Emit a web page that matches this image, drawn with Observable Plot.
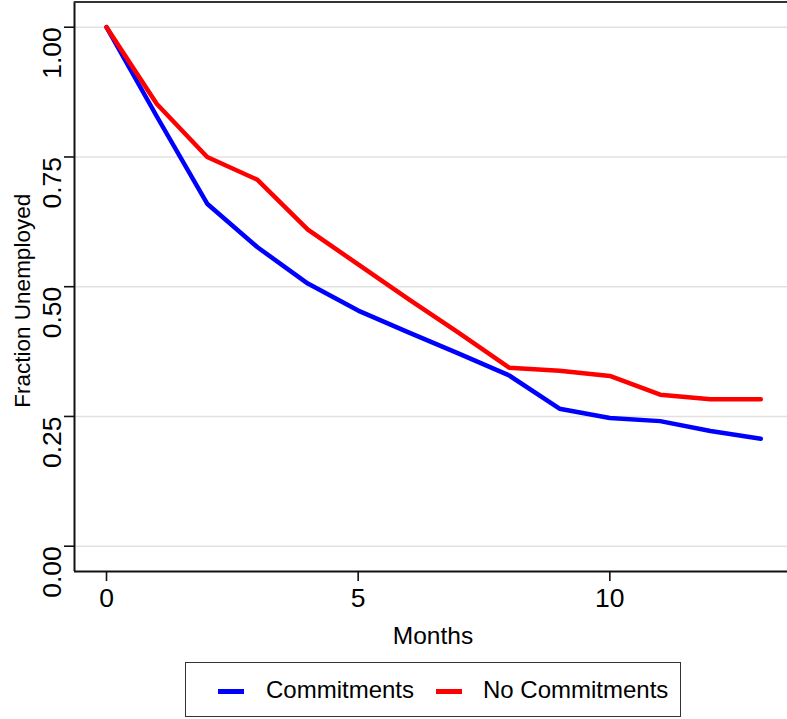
<!DOCTYPE html>
<html>
<head>
<meta charset="utf-8">
<script src="https://cdn.jsdelivr.net/npm/d3@7"></script>
<script src="https://cdn.jsdelivr.net/npm/@observablehq/plot@0.6"></script>
<style>
  html, body { margin: 0; padding: 0; background: #fff; }
  body { font-family: "Liberation Sans", Arial, sans-serif; }
  #wrap { position: relative; width: 787px; height: 719px; }
  #legend { position: absolute; left: 185px; top: 662px; width: 494px; height: 53px;
    border: 1.5px solid #333; box-sizing: content-box; }
  .sw { position: absolute; top: 26px; height: 4.5px; width: 26px; }
  .lt { position: absolute; top: 13px; font-size: 24px; line-height: 28px; color: #000; white-space: nowrap; }
</style>
</head>
<body>
<div id="wrap"></div>
<script>
const months = [0, 1, 2, 3, 4, 5, 6, 7, 8, 9, 10, 11, 12, 13];
const commitments = [1.00, 0.828, 0.660, 0.576, 0.506, 0.454, 0.412, 0.371, 0.329, 0.265, 0.247, 0.241, 0.222, 0.207];
const noCommitments = [1.00, 0.852, 0.750, 0.706, 0.610, 0.543, 0.476, 0.411, 0.344, 0.338, 0.328, 0.292, 0.283, 0.283];
const seriesNames = ["Commitments", "No Commitments"];
const seriesColors = ["#0000ff", "#ff0000"];
const yTicks = [0, 0.25, 0.5, 0.75, 1];
const xTicks = [0, 5, 10];

const data = [];
months.forEach((m, i) => {
  data.push({month: m, value: commitments[i], series: seriesNames[0]});
  data.push({month: m, value: noCommitments[i], series: seriesNames[1]});
});

const xDomain = [-0.636, 13.53];
const yDomain = [-0.04875, 1.0486];
const fmt = d3.format(".2f");

const chart = Plot.plot({
  width: 787,
  height: 660,
  marginLeft: 74,
  marginRight: 0,
  marginTop: 1.5,
  marginBottom: 89,
  style: {fontFamily: '"Liberation Sans", Arial, sans-serif', color: "#000", background: "#fff", overflow: "visible"},
  x: {domain: xDomain},
  y: {domain: yDomain},
  color: {domain: seriesNames, range: seriesColors},
  marks: [
    Plot.ruleY(yTicks, {stroke: "#e1e1e1", strokeWidth: 1.6}),
    Plot.ruleX([xDomain[0]], {stroke: "#111", strokeWidth: 2}),
    Plot.ruleY([yDomain[0]], {stroke: "#111", strokeWidth: 2}),
    Plot.ruleY([yDomain[1]], {stroke: "#333", strokeWidth: 2}),
    Plot.axisY({ticks: yTicks, tickSize: 10, tickFormat: () => "", stroke: "#111", strokeWidth: 1.6, label: null}),
    Plot.text(yTicks, {y: d => d, text: d => fmt(d), frameAnchor: "left", rotate: -90,
      textAnchor: "end", lineAnchor: "bottom", dx: -14, fontSize: 26.5, fill: "#000"}),
    Plot.axisX({ticks: xTicks, tickSize: 10, tickPadding: 7, fontSize: 26.5, stroke: "#111", strokeWidth: 1.6, label: null}),
    Plot.text(["Months"], {frameAnchor: "bottom", dy: 72, lineAnchor: "bottom", fontSize: 24.5, dx: 2, fill: "#000"}),
    Plot.text(["Fraction Unemployed"], {frameAnchor: "left", rotate: -90, dx: -45, dy: 14,
      textAnchor: "middle", lineAnchor: "bottom", fontSize: 22.5, fill: "#000"}),
    Plot.line(data, {x: "month", y: "value", z: "series", stroke: "series", strokeWidth: 4.5})
  ]
});

const wrap = document.getElementById("wrap");
wrap.appendChild(chart);

const legend = document.createElement("div");
legend.id = "legend";
const items = [
  {name: seriesNames[0], color: seriesColors[0], sw: 32, tx: 80},
  {name: seriesNames[1], color: seriesColors[1], sw: 250, tx: 297}
];
items.forEach(it => {
  const s = document.createElement("div");
  s.className = "sw";
  s.style.left = it.sw + "px";
  s.style.background = it.color;
  legend.appendChild(s);
  const t = document.createElement("div");
  t.className = "lt";
  t.style.left = it.tx + "px";
  t.textContent = it.name;
  legend.appendChild(t);
});
wrap.appendChild(legend);
</script>
</body>
</html>
